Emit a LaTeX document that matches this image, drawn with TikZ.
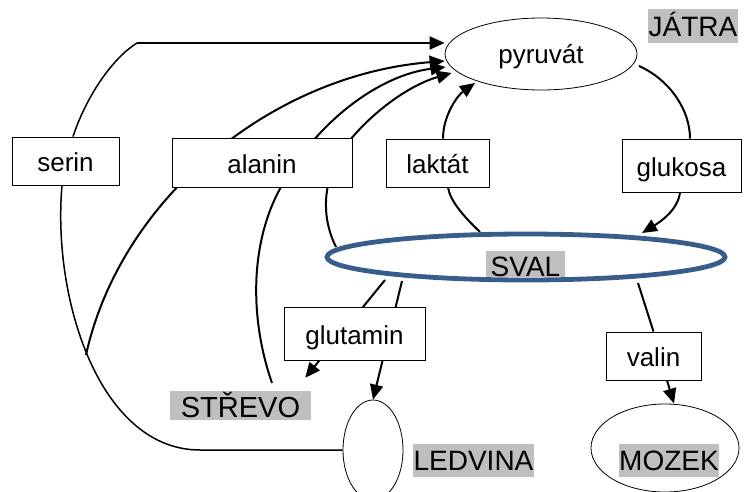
\documentclass[tikz,border=0pt]{standalone}
\usepackage{fontspec}
\setmainfont{Liberation Sans}
\usetikzlibrary{arrows.meta,calc,shapes.geometric}
\pgfdeclarelayer{bg}
\pgfsetlayers{bg,main}
\definecolor{svalblue}{HTML}{385D8A}
\definecolor{lblgray}{HTML}{BFBFBF}
\begin{document}
\begin{tikzpicture}[x=1pt,y=-1pt,
  box/.style={draw, fill=white, line width=0.8pt, inner sep=0pt, font=\fontsize{26}{30}\selectfont, text height=21pt, text depth=0pt},
  lbl/.style={fill=lblgray, inner sep=0pt, font=\fontsize{28}{32}\selectfont, text height=20pt, text depth=0pt},
  oval/.style={ellipse, draw, line width=0.8pt, inner sep=0pt},
  con/.style={line width=2pt},
  thincon/.style={line width=1.5pt},
  arr/.style={con, -{Triangle[length=15pt,width=13pt]}},
]
\useasboundingbox (0,0) rectangle (744,492);
\clip (0,0) rectangle (744,492);

% ellipses
\node[oval, minimum width=192pt, minimum height=72pt, font=\fontsize{26}{30}\selectfont, text height=19pt, text depth=0pt] (pyr) at (541,54) {pyruvát};
\node[ellipse, draw=svalblue, line width=4.8pt, inner sep=0pt, minimum width=398pt, minimum height=46pt] (sval) at (526,257) {};
\node[oval, minimum width=60pt, minimum height=100pt] (led) at (373,450) {};
\node[oval, minimum width=148pt, minimum height=88pt] (moz) at (665,448) {};

% grey labels
\node[lbl, minimum width=90pt, minimum height=34pt, text height=22pt] (jat) at (693,26) {JÁTRA};
\node[lbl, minimum width=79pt, minimum height=26pt, text height=24pt] (svallbl) at (525.5,264) {SVAL};
\node[lbl, minimum width=141pt, minimum height=29pt, text height=24pt, font=\fontsize{29}{33}\selectfont] (str) at (240.5,405.5) {STŘEVO};
\node[lbl, minimum width=121pt, minimum height=33pt, text height=19pt] (ledl) at (473.5,460.5) {LEDVINA};
\node[lbl, minimum width=100pt, minimum height=33pt, text height=19pt] (mozl) at (669,460.5) {MOZEK};

% boxes
\node[box, minimum width=107pt, minimum height=48pt] (ser) at (65.5,161) {serin};
\node[box, minimum width=180pt, minimum height=49pt] (ala) at (262,162.5) {alanin};
\node[box, minimum width=103pt, minimum height=48pt] (lak) at (437.5,163) {laktát};
\node[box, minimum width=119pt, minimum height=53pt] (glu) at (681.5,165.5) {glukosa};
\node[box, minimum width=141pt, minimum height=53pt] (gln) at (354.5,333.5) {glutamin};
\node[box, minimum width=95pt, minimum height=48pt] (val) at (653.5,356) {valin};

% free ends
\coordinate (sj) at (137,43);
\coordinate (a0) at (86,355);
\coordinate (b0) at (272,383);
\coordinate (gt) at ($(str.north east)+(-6,-13)$);

\begin{pgfonlayer}{bg}
% serin
\draw[thincon] ([xshift=7.5pt]ser.north) .. controls (85,100) and (110,60) .. (sj);
\draw[arr] (sj) -- ($(pyr.west)+(0,-11)$);
\draw[thincon] ([xshift=-3.5pt]ser.south) .. controls (52,300) and (100,450) .. (200,450) -- (led.west);
% alanin
\draw[arr] (a0) .. controls (120,200) and (270,75) .. ($(pyr.west)+(0,7)$);
\draw[arr] (b0) .. controls (250,320) and (248,240) .. (285,180) .. controls (320,120) and (380,75) .. ($(pyr.west)+(1,13)$);
\draw[arr] ($(sval.center)+(-190,-10)$) .. controls (320,215) and (322,175) .. (350,140) .. controls (375,110) and (410,85) .. ($(pyr.west)+(7,19)$);
% laktat
\draw[con] ($(sval.center)+(-46,-25)$) .. controls (462,215) and (450,200) .. ([xshift=10.5pt]lak.south);
\draw[arr] ([xshift=5.5pt]lak.north) .. controls (443,115) and (458,95) .. ($(pyr.center)+(-66,29)$);
% glukosa
\draw[con] ($(pyr.center)+(98,12)$) .. controls (670,80) and (690,110) .. ([xshift=8.5pt]glu.north);
\draw[arr] ([xshift=-1.5pt]glu.south) .. controls (678,210) and (660,222) .. ($(sval.center)+(116,-24)$);
% glutamin
\draw[arr] ($(sval.center)+(-141,23)$) -- (gt);
\draw[arr] ($(sval.center)+(-124,24)$) -- (led.north);
% valin
\draw[con] ($(sval.center)+(112,26)$) -- (val.north);
\draw[arr] ([xshift=13.5pt]val.south) -- ([xshift=9pt]moz.north);
\end{pgfonlayer}
\end{tikzpicture}
\end{document}
